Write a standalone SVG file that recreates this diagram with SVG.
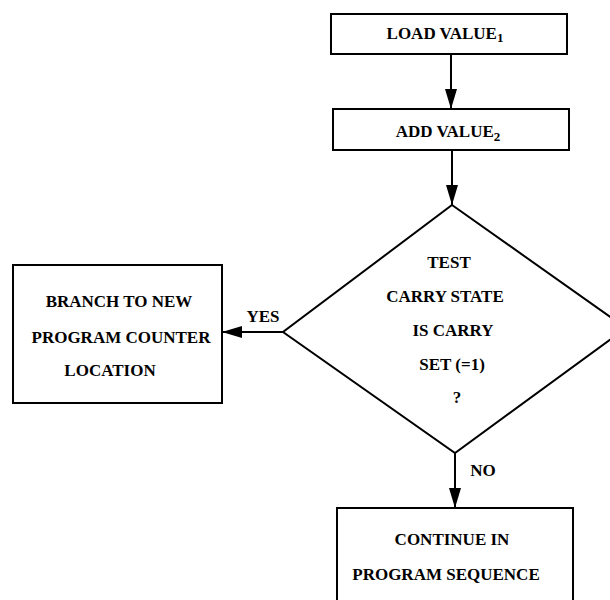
<svg xmlns="http://www.w3.org/2000/svg" width="610" height="600" viewBox="0 0 610 600">
<defs>
<style>
.box{fill:#fff;stroke:#000;stroke-width:2}
.t{font-family:"Liberation Serif","Times New Roman",serif;font-weight:bold;font-size:17px;fill:#000;text-anchor:middle}
.c{fill:none;stroke:#000;stroke-width:2}
</style>
<marker id="ah" markerUnits="userSpaceOnUse" markerWidth="20" markerHeight="12" refX="20" refY="6" orient="auto">
<path d="M0,0 L20,6 L0,12 z" fill="#000"/>
</marker>
</defs>
<rect width="610" height="600" fill="#fff"/>
<g id="connectors">
<line class="c" x1="451" y1="54" x2="451" y2="109" marker-end="url(#ah)"/>
<line class="c" x1="452" y1="150" x2="452" y2="205" marker-end="url(#ah)"/>
<line class="c" x1="283" y1="332" x2="222" y2="332" marker-end="url(#ah)"/>
<line class="c" x1="455" y1="453" x2="455" y2="508" marker-end="url(#ah)"/>
<text class="t" x="263" y="322">YES</text>
<text class="t" x="483" y="476">NO</text>
</g>
<g id="load">
<rect class="box" x="331" y="14" width="236" height="40"/>
<text class="t" x="445" y="38.5">LOAD VALUE<tspan font-size="13" dy="3.5">1</tspan></text>
</g>
<g id="add">
<rect class="box" x="333" y="109" width="236" height="41"/>
<text class="t" x="448" y="137">ADD VALUE<tspan font-size="13" dy="3.5">2</tspan></text>
</g>
<g id="test">
<polygon class="box" points="452,205 626,328 455,453 283,332"/>
<text class="t" x="449" y="268">TEST</text>
<text class="t" x="445" y="302">CARRY STATE</text>
<text class="t" x="453" y="336">IS CARRY</text>
<text class="t" x="452" y="370">SET (=1)</text>
<text class="t" x="457" y="403">?</text>
</g>
<g id="branch">
<rect class="box" x="13" y="265" width="209" height="138"/>
<text class="t" x="119" y="307">BRANCH TO NEW</text>
<text class="t" x="121" y="342.5">PROGRAM COUNTER</text>
<text class="t" x="110" y="376">LOCATION</text>
</g>
<g id="continue">
<rect class="box" x="337" y="508" width="236" height="100"/>
<text class="t" x="452" y="545">CONTINUE IN</text>
<text class="t" x="446" y="580">PROGRAM SEQUENCE</text>
</g>
</svg>
